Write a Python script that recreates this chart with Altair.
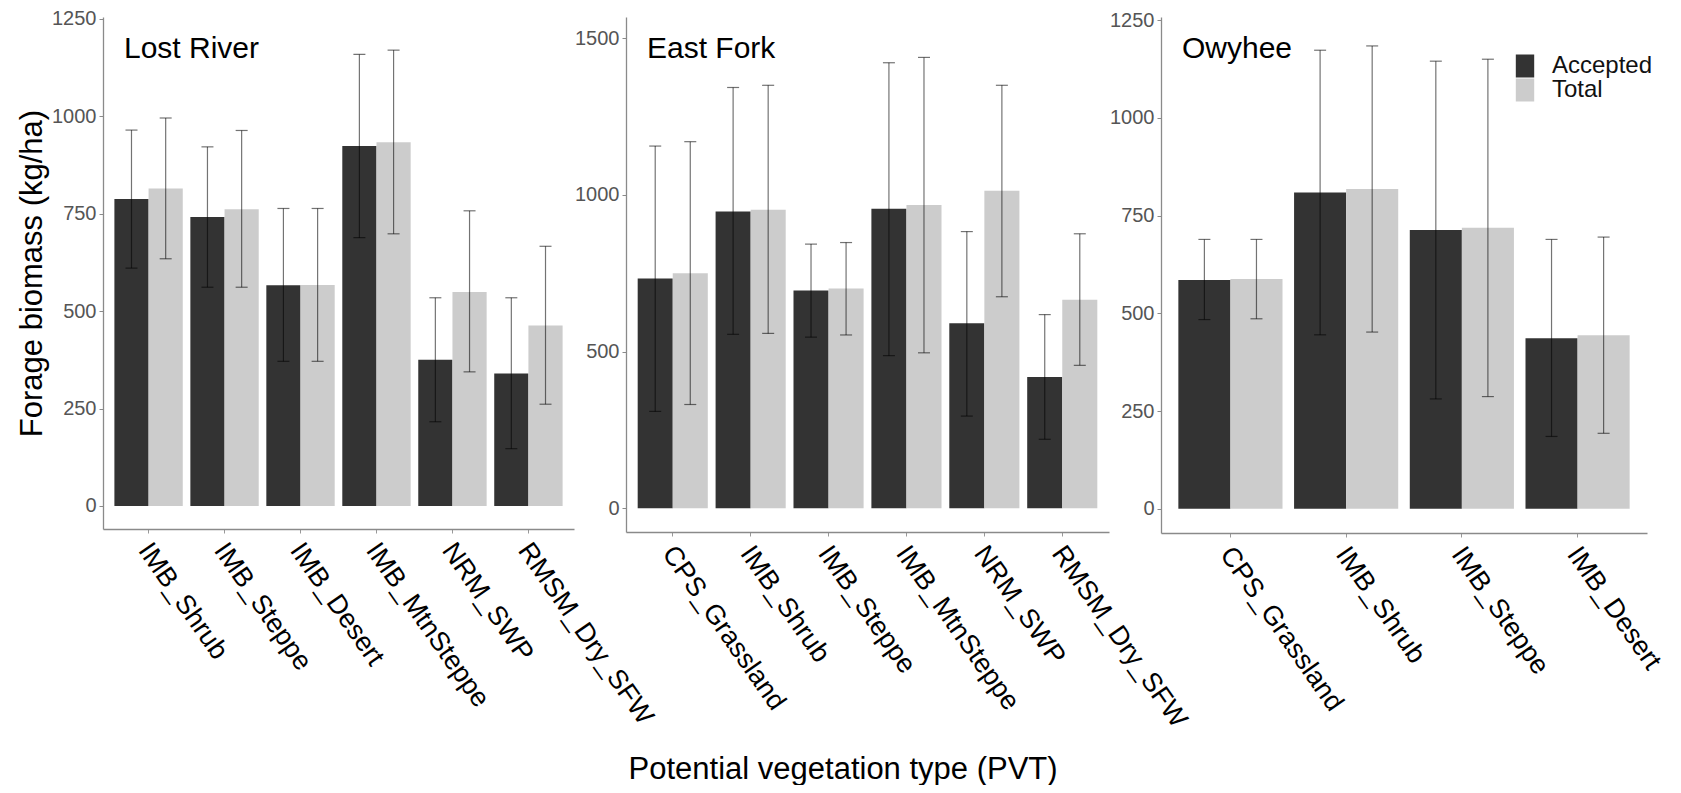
import altair as alt
import pandas as pd

FONT = "Liberation Sans"

# ---- Lost River ----
lost_pvt = ["IMB_Shrub", "IMB_Steppe", "IMB_Desert", "IMB_MtnSteppe", "NRM_SWP", "RMSM_Dry_SFW"]
lost_acc = [787, 741, 566, 923, 375, 340]
lost_acc_lo = [610, 561, 371, 688, 216, 147]
lost_acc_hi = [964, 921, 763, 1158, 534, 534]
lost_tot = [814, 761, 567, 933, 549, 463]
lost_tot_lo = [634, 561, 371, 698, 344, 261]
lost_tot_hi = [995, 963, 763, 1169, 757, 666]

# ---- East Fork ----
east_pvt = ["CPS_Grassland", "IMB_Shrub", "IMB_Steppe", "IMB_MtnSteppe", "NRM_SWP", "RMSM_Dry_SFW"]
east_acc = [733, 947, 695, 956, 590, 419]
east_acc_lo = [309, 555, 546, 487, 294, 220]
east_acc_hi = [1156, 1343, 843, 1422, 883, 618]
east_tot = [750, 953, 701, 968, 1013, 665]
east_tot_lo = [331, 558, 553, 496, 675, 456]
east_tot_hi = [1170, 1350, 848, 1439, 1350, 876]

# ---- Owyhee ----
owy_pvt = ["CPS_Grassland", "IMB_Shrub", "IMB_Steppe", "IMB_Desert"]
owy_acc = [585, 809, 713, 436]
owy_acc_lo = [484, 445, 281, 185]
owy_acc_hi = [689, 1173, 1145, 689]
owy_tot = [588, 818, 719, 444]
owy_tot_lo = [486, 452, 287, 193]
owy_tot_hi = [689, 1184, 1150, 695]

types = ["Accepted", "Total"]
colors = ["#333333", "#cccccc"]


def table(pvt, acc, acc_lo, acc_hi, tot, tot_lo, tot_hi):
    rows = []
    for i, p in enumerate(pvt):
        rows.append({"pvt": p, "type": "Accepted", "value": acc[i], "lo": acc_lo[i], "hi": acc_hi[i]})
        rows.append({"pvt": p, "type": "Total", "value": tot[i], "lo": tot_lo[i], "hi": tot_hi[i]})
    return pd.DataFrame(rows)


def panel(df, pvt, name, domain, ticks, width, height, first=False):
    x = alt.X("pvt:N", sort=pvt, title=None,
              scale=alt.Scale(paddingInner=0.1, paddingOuter=0.15),
              axis=alt.Axis(labelAngle=55, labelAlign="left", labelBaseline="top",
                            labelFontSize=27, labelColor="#000000", labelFont=FONT,
                            labelPadding=5, labelOffset=6, tickSize=4, tickColor="#999999",
                            domainColor="#8a8a8a", domainWidth=1.3, labelLimit=400,
                            labelOverlap=False))
    xo = alt.XOffset("type:N", sort=types, scale=alt.Scale(paddingInner=0, paddingOuter=0))
    yaxis = alt.Axis(values=ticks, format="d", labelFontSize=20, labelColor="#555555", labelFont=FONT,
                     tickSize=4, tickColor="#8a8a8a", labelPadding=3,
                     domainColor="#8a8a8a", domainWidth=1.3, grid=False,
                     title="Forage biomass (kg/ha)" if first else None,
                     titleFontSize=31, titleFont=FONT, titleFontWeight="normal",
                     titleColor="#000000", titlePadding=3)
    yscale = alt.Scale(domain=domain, nice=False, zero=False)
    base = alt.Chart(df)
    bars = base.mark_bar().encode(
        x=x, xOffset=xo,
        y=alt.Y("value:Q", scale=yscale, axis=yaxis),
        color=alt.Color("type:N", scale=alt.Scale(domain=types, range=colors),
                        legend=alt.Legend(title=None, orient="none", legendX=1410, legendY=37,
                                          symbolType="M-0.8,-1H0.8V1H-0.8Z", symbolSize=529,
                                          symbolStrokeWidth=0, symbolOpacity=1,
                                          labelFontSize=24, labelFont=FONT, labelColor="#111111",
                                          rowPadding=0, labelOffset=15)),
    )
    rules = base.mark_rule(color="#000000", opacity=0.55, strokeWidth=1.2).encode(
        x=x, xOffset=xo, y=alt.Y("lo:Q", scale=yscale), y2="hi:Q")
    caps_hi = base.mark_tick(color="#000000", opacity=0.55, thickness=1.2, size=12).encode(
        x=x, xOffset=xo, y=alt.Y("hi:Q", scale=yscale))
    caps_lo = base.mark_tick(color="#000000", opacity=0.55, thickness=1.2, size=12).encode(
        x=x, xOffset=xo, y=alt.Y("lo:Q", scale=yscale))
    label = alt.Chart(pd.DataFrame({"t": [name]})).mark_text(
        align="left", baseline="alphabetic", fontSize=30, font=FONT, color="#000000"
    ).encode(x=alt.value(21), y=alt.value(41), text="t:N")
    return alt.layer(bars, rules, caps_hi, caps_lo, label).properties(width=width, height=height)


p1 = panel(table(lost_pvt, lost_acc, lost_acc_lo, lost_acc_hi, lost_tot, lost_tot_lo, lost_tot_hi),
           lost_pvt, "Lost River", [-59, 1254], [0, 250, 500, 750, 1000, 1250], 471, 512, first=True)
p2 = panel(table(east_pvt, east_acc, east_acc_lo, east_acc_hi, east_tot, east_tot_lo, east_tot_hi),
           east_pvt, "East Fork", [-76, 1568], [0, 500, 1000, 1500], 483, 515)
p3 = panel(table(owy_pvt, owy_acc, owy_acc_lo, owy_acc_hi, owy_tot, owy_tot_lo, owy_tot_hi),
           owy_pvt, "Owyhee", [-62, 1258], [0, 250, 500, 750, 1000, 1250], 486, 516)

chart = alt.hconcat(p1, p2, p3, spacing=52, bounds="flush").resolve_scale(
    x="independent", y="independent", xOffset="independent"
).properties(
    title=alt.TitleParams("Potential vegetation type (PVT)", orient="bottom", anchor="middle",
                          fontSize=31, font=FONT, fontWeight="normal", color="#000000",
                          offset=23, dx=2),
    padding={"left": 8, "top": 0, "right": 0, "bottom": 0},
).configure(background="#ffffff", view={"stroke": None})

chart.save("out.html", embed_options={"renderer": "svg", "actions": False})
